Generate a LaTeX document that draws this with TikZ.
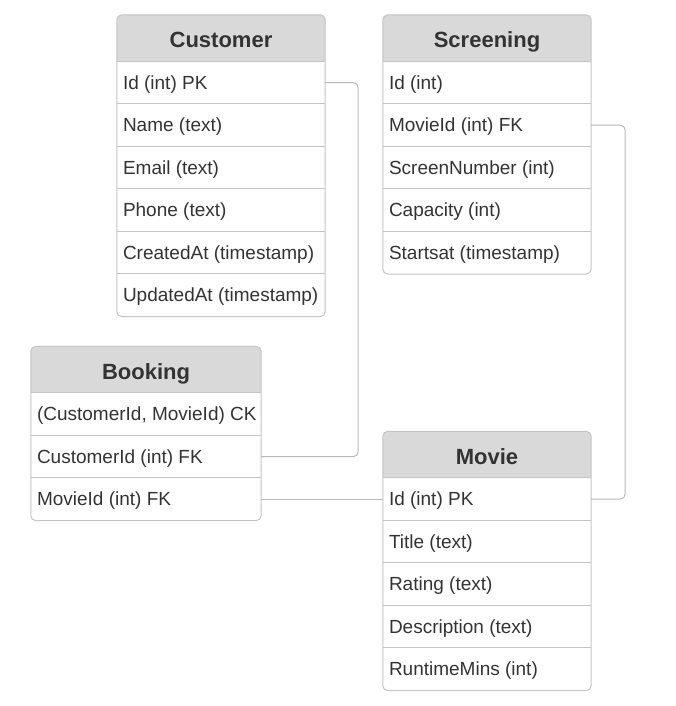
\documentclass[tikz,border=0pt]{standalone}
\usepackage{fontspec}
\setmainfont{Liberation Sans}
\definecolor{headgray}{HTML}{D9D9D9}
\definecolor{rulegray}{HTML}{C4C4C4}
\definecolor{linkgray}{HTML}{B8B8B8}
\definecolor{txtgray}{HTML}{333333}
\tikzset{
  tabhead/.style={minimum height=46pt, inner sep=0pt, text=txtgray,
    font=\fontsize{22}{22}\selectfont\bfseries, text height=20pt, text depth=0pt,
    path picture={\fill[headgray, rounded corners=5pt] (path picture bounding box.north west)
      rectangle ([yshift=-8pt]path picture bounding box.south east);}},
  tabrow/.style={anchor=north west, minimum height=42.5pt, inner xsep=6pt, inner ysep=0pt,
    text height=13pt, text depth=0pt, text=txtgray, font=\fontsize{19}{19}\selectfont},
  rule/.style={draw=rulegray, line width=1pt},
  link/.style={draw=linkgray, line width=1pt, rounded corners=5pt}
}
\begin{document}
\begin{tikzpicture}[x=1pt, y=-1pt]
\useasboundingbox (0,0) rectangle (675,706);
% tables
\node[tabhead, minimum width=208pt] (cust) at (221,38) {Customer};
\foreach \txt [count=\i] in {Id (int) PK, Name (text), Email (text), Phone (text), CreatedAt (timestamp), UpdatedAt (timestamp)}
  \node[tabrow] (cust\i) at ([yshift={-(\i-1)*42.5pt}]cust.south west) {\txt};
\node[tabhead, minimum width=208pt] (scr) at (487,38) {Screening};
\foreach \txt [count=\i] in {Id (int), MovieId (int) FK, ScreenNumber (int), Capacity (int), Startsat (timestamp)}
  \node[tabrow] (scr\i) at ([yshift={-(\i-1)*42.5pt}]scr.south west) {\txt};
\node[tabhead, minimum width=230pt] (book) at (146,369.5) {Booking};
\foreach \txt [count=\i] in {{(CustomerId, MovieId) CK}, CustomerId (int) FK, MovieId (int) FK}
  \node[tabrow] (book\i) at ([yshift={-(\i-1)*42.5pt}]book.south west) {\txt};
\node[tabhead, minimum width=208pt] (mov) at (487,454.5) {Movie};
\foreach \txt [count=\i] in {Id (int) PK, Title (text), Rating (text), Description (text), RuntimeMins (int)}
  \node[tabrow] (mov\i) at ([yshift={-(\i-1)*42.5pt}]mov.south west) {\txt};
% row rules and outline
\foreach \tb/\nr in {cust/6, scr/5, book/3, mov/5} {
  \foreach \i in {1,...,\nr}
    \draw[rule] (\tb\i.north west) -- (\tb\i.north west -| \tb.east);
  \draw[rule, rounded corners=5pt] (\tb.north west) rectangle (\tb\nr.south west -| \tb.east);
}
% links
\draw[link] (cust1.east -| cust.east) -- ++(33,0) |- (book2.east -| book.east);
\draw[link] (scr2.east -| scr.east) -- ++(34,0) |- (mov1.east -| mov.east);
\draw[link] (book3.east -| book.east) -- (mov1.west -| mov.west);
\end{tikzpicture}
\end{document}
